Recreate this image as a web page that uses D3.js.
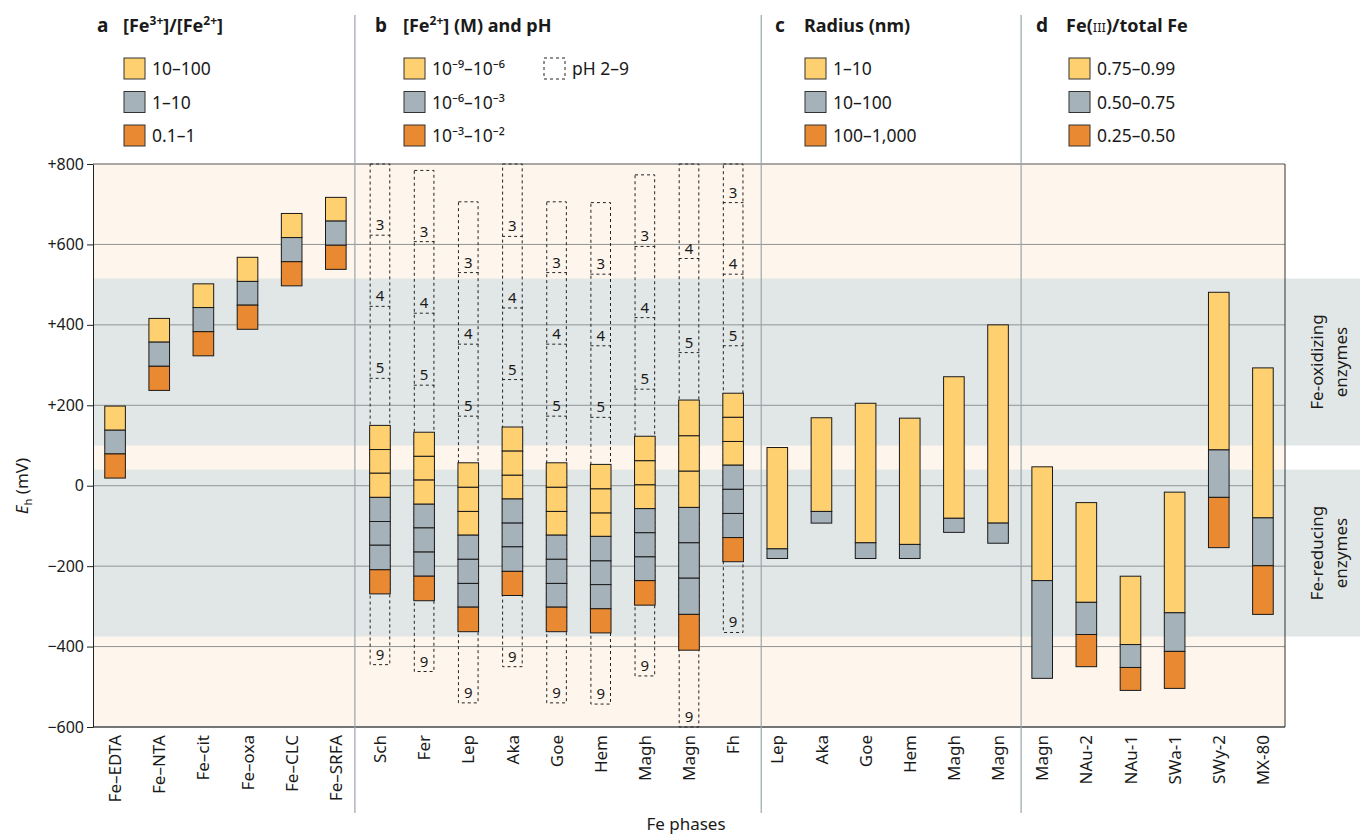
<!DOCTYPE html>
<html lang="en">
<head>
<meta charset="UTF-8">
<title>Fe phases Eh</title>
<script src="https://d3js.org/d3.v7.min.js"></script>
<style>
    body { margin: 0; background: #fff; font-family: "Noto Sans", "Open Sans", sans-serif; }
    svg { display: block; }
    text { fill: #1a1a1a; }
</style>
</head>
<body>
<div id="container"></div>
<script>
// ---- data (mV), segment edges listed from top to bottom ----
const aNames = ["Fe–EDTA", "Fe–NTA", "Fe–cit", "Fe–oxa", "Fe–CLC", "Fe–SRFA"];
const aEdges = [
    [198, 138, 79, 19],
    [416, 357, 297, 237],
    [502, 443, 383, 323],
    [568, 508, 449, 389],
    [677, 617, 557, 497],
    [717, 658, 598, 538]
];
const aClasses = [0, 1, 2];

const bNames = ["Sch", "Fer", "Lep", "Aka", "Goe", "Hem", "Magh", "Magn", "Fh"];
const bEdges = [
    [150, 90, 31, -29, -89, -148, -209, -269],
    [133, 73, 14, -46, -105, -165, -225, -286],
    [57, -4, -64, -123, -183, -243, -302, -363],
    [146, 86, 26, -33, -93, -152, -213, -273],
    [57, -4, -64, -123, -183, -243, -302, -363],
    [53, -8, -68, -126, -187, -246, -306, -366],
    [123, 62, 2, -57, -117, -177, -236, -297],
    [213, 124, 36, -54, -142, -230, -320, -409],
    [230, 170, 110, 51, -9, -69, -129, -189]
];
const bClasses = [0, 0, 0, 1, 1, 1, 2];
// pH 2 (top, cut at +800), pH 3, 4, 5 and pH 9 (bottom)
const phTop = [800, 784, 706, 800, 706, 704, 773, 800, 800];
const ph3 = [623, 607, 530, 620, 530, 526, 595, null, 704];
const ph4 = [446, 429, 352, 442, 352, 348, 418, 565, 526];
const ph5 = [267, 250, 173, 264, 173, 170, 240, 331, 348];
const ph9 = [-445, -462, -540, -450, -540, -543, -473, -600, -365];

const cNames = ["Lep", "Aka", "Goe", "Hem", "Magh", "Magn"];
const cEdges = [
    [95, -157, -181],
    [169, -64, -93],
    [205, -142, -181],
    [168, -146, -181],
    [271, -81, -116],
    [400, -93, -143]
];
const cClasses = [0, 1, 2];

const dNames = ["Magn", "NAu-2", "NAu-1", "SWa-1", "SWy-2", "MX-80"];
const dEdges = [
    [47, -236, -479],
    [-42, -290, -370, -450],
    [-225, -395, -452, -509],
    [-16, -316, -412, -504],
    [481, 89, -29, -154],
    [293, -80, -199, -320]
];
const dClasses = [0, 1, 2];

const yTicks = [800, 600, 400, 200, 0, -200, -400, -600];

// enzyme windows (mV)
const enzymeHi = [515, 40];
const enzymeLo = [100, -375];
const enzymeLabels = [["Fe-oxidizing", "enzymes"], ["Fe-reducing", "enzymes"]];

const legendA = ["10–100", "1–10", "0.1–1"];
const legendB = ["10⁻⁹–10⁻⁶", "10⁻⁶–10⁻³", "10⁻³–10⁻²"];
const legendC = ["1–10", "10–100", "100–1,000"];
const legendD = ["0.75–0.99", "0.50–0.75", "0.25–0.50"];

const fills = ["#ffd06f", "#a6b2b9", "#e98931"];

// ---- layout ----
const W = 1360, H = 836;
const plotL = 93, plotR = 1285, plotT = 164, plotB = 727;

const svg = d3.select('#container').append('svg')
    .attr('width', W).attr('height', H);

const panels = [
    {id: 'a', names: aNames, edges: aEdges, classes: aClasses},
    {id: 'b', names: bNames, edges: bEdges, classes: bClasses},
    {id: 'c', names: cNames, edges: cEdges, classes: cClasses},
    {id: 'd', names: dNames, edges: dEdges, classes: dClasses}
];

const rows = [];
panels.forEach(p => {
    p.names.forEach((n, i) => {
        rows.push({key: p.id + i, panel: p.id, idx: i, name: n, edges: p.edges[i], classes: p.classes});
    });
});

const x = d3.scaleBand()
    .domain(rows.map(d => d.key))
    .range([plotL, plotR])
    .paddingInner(0.533)
    .paddingOuter(0.2665);

const y = d3.scaleLinear().domain([-600, 800]).range([plotB, plotT]);

// backgrounds
svg.append('rect')
    .attr('x', plotL).attr('y', plotT)
    .attr('width', plotR - plotL).attr('height', plotB - plotT)
    .attr('fill', '#fef5ec');

svg.selectAll('.band')
    .data(enzymeHi)
    .enter()
    .append('rect')
    .attr('x', plotL)
    .attr('y', d => y(d))
    .attr('width', W - plotL)
    .attr('height', (d, i) => y(enzymeLo[i]) - y(d))
    .attr('fill', '#e1e6e6');

// grid
svg.selectAll('.grid')
    .data(yTicks)
    .enter()
    .append('line')
    .attr('x1', plotL).attr('x2', plotR)
    .attr('y1', d => y(d)).attr('y2', d => y(d))
    .attr('stroke', (d, i) => (i === 0 ? '#555' : '#8e9496'))
    .attr('stroke-width', 1);

// pH 2–9 dashed boxes (panel b)
const bRows = rows.filter(d => d.panel === 'b');
const ph = svg.append('g');
ph.selectAll('rect')
    .data(bRows)
    .enter()
    .append('rect')
    .attr('x', d => x(d.key) + 0.5)
    .attr('y', d => y(phTop[d.idx]))
    .attr('width', x.bandwidth() - 1)
    .attr('height', d => y(ph9[d.idx]) - y(phTop[d.idx]))
    .attr('fill', 'none')
    .attr('stroke', '#222')
    .attr('stroke-dasharray', '3,3');

const phLines = [];
bRows.forEach(d => {
    [[ph3, '3'], [ph4, '4'], [ph5, '5']].forEach(([arr, lab]) => {
        if (arr[d.idx] !== null) phLines.push({key: d.key, v: arr[d.idx], lab: lab, line: true});
    });
    phLines.push({key: d.key, v: ph9[d.idx], lab: '9', line: false});
});

ph.selectAll('line')
    .data(phLines.filter(d => d.line))
    .enter()
    .append('line')
    .attr('x1', d => x(d.key)).attr('x2', d => x(d.key) + x.bandwidth())
    .attr('y1', d => y(d.v)).attr('y2', d => y(d.v))
    .attr('stroke', '#222')
    .attr('stroke-dasharray', '3,3');

ph.selectAll('text')
    .data(phLines)
    .enter()
    .append('text')
    .attr('x', d => x(d.key) + x.bandwidth() / 2)
    .attr('y', d => y(d.v) - 5)
    .attr('text-anchor', 'middle')
    .attr('font-size', 15)
    .text(d => d.lab);

// stacked bars
const segs = [];
rows.forEach(d => {
    for (let k = 0; k < d.edges.length - 1; k++) {
        segs.push({key: d.key, hi: d.edges[k], lo: d.edges[k + 1], cls: d.classes[Math.min(k, d.classes.length - 1)]});
    }
});

svg.append('g').selectAll('rect')
    .data(segs)
    .enter()
    .append('rect')
    .attr('x', d => x(d.key))
    .attr('y', d => y(d.hi))
    .attr('width', x.bandwidth())
    .attr('height', d => y(d.lo) - y(d.hi))
    .attr('fill', d => fills[d.cls])
    .attr('stroke', '#1a1a1a')
    .attr('stroke-width', 1);

// frame
svg.append('line')
    .attr('x1', plotL).attr('x2', plotR).attr('y1', plotB).attr('y2', plotB)
    .attr('stroke', '#222');
svg.append('line')
    .attr('x1', plotR).attr('x2', plotR).attr('y1', plotT).attr('y2', plotB)
    .attr('stroke', '#333');

// panel separators (gap between panels, nudged to the printed rules)
const sepKeys = ['b0', 'c0', 'd0'];
const sepNudge = [-3, 6, 1];
svg.selectAll('.sep')
    .data(sepKeys)
    .enter()
    .append('line')
    .attr('x1', (d, i) => x(d) - (x.step() - x.bandwidth()) / 2 + sepNudge[i])
    .attr('x2', (d, i) => x(d) - (x.step() - x.bandwidth()) / 2 + sepNudge[i])
    .attr('y1', 15).attr('y2', 813)
    .attr('stroke', '#9aa6ad')
    .attr('stroke-width', 1.2);

// y axis
const yAxis = svg.append('g')
    .attr('transform', `translate(${plotL},0)`)
    .call(d3.axisLeft(y)
        .tickValues(yTicks)
        .tickSize(6)
        .tickSizeOuter(0)
        .tickFormat(d => (d > 0 ? '+' + d : d < 0 ? '−' + Math.abs(d) : '0')));
yAxis.select('.domain').attr('stroke', '#222');
yAxis.selectAll('.tick line').attr('stroke', '#222');
yAxis.selectAll('.tick text')
    .attr('font-family', '"Noto Sans", sans-serif')
    .attr('font-size', 16)
    .attr('fill', '#1a1a1a')
    .attr('x', -9);

const yTitle = svg.append('text')
    .attr('transform', 'translate(28,486) rotate(-90)')
    .attr('text-anchor', 'middle')
    .attr('font-size', 17);
yTitle.append('tspan').attr('font-style', 'italic').text('E');
yTitle.append('tspan').attr('font-size', 11).attr('dy', 4).text('h');
yTitle.append('tspan').attr('dy', -4).text(' (mV)');

// x labels
svg.selectAll('.xlab')
    .data(rows)
    .enter()
    .append('text')
    .attr('transform', d => `translate(${x(d.key) + x.bandwidth() / 2},735) rotate(-90)`)
    .attr('text-anchor', 'end')
    .attr('dy', '0.36em')
    .attr('font-size', 17)
    .text(d => d.name);

svg.append('text')
    .attr('x', (plotL + plotR) / 2 - 3)
    .attr('y', 830)
    .attr('text-anchor', 'middle')
    .attr('font-size', 17)
    .text('Fe phases');

// enzyme labels
enzymeHi.forEach((hi, i) => {
    const yc = (y(hi) + y(enzymeLo[i])) / 2;
    const t = svg.append('text')
        .attr('transform', `translate(1323,${yc}) rotate(-90)`)
        .attr('text-anchor', 'middle')
        .attr('font-size', 17);
    enzymeLabels[i].forEach((s, k) => {
        t.append('tspan').attr('x', 0).attr('y', k * 24).text(s);
    });
});

// panel titles
const titles = [
    {letter: 'a', lx: 97, tx: 123, parts: [['[Fe', 0], ['3+', 1], [']/[Fe', 0], ['2+', 1], [']', 0]]},
    {letter: 'b', lx: 375, tx: 403, parts: [['[Fe', 0], ['2+', 1], ['] (M) and pH', 0]]},
    {letter: 'c', lx: 775, tx: 804, parts: [['Radius (nm)', 0]]},
    {letter: 'd', lx: 1036, tx: 1066, parts: [['Fe(', 0], ['III', 2], [')/total Fe', 0]]}
];
titles.forEach(t => {
    svg.append('text')
        .attr('x', t.lx).attr('y', 32)
        .attr('font-size', 19).attr('font-weight', 'bold')
        .text(t.letter);
    const tt = svg.append('text')
        .attr('x', t.tx).attr('y', 32)
        .attr('font-size', 18).attr('font-weight', 'bold');
    let shift = 0;
    t.parts.forEach(([s, kind]) => {
        const sp = tt.append('tspan').text(s);
        if (kind === 1) {
            sp.attr('font-size', 12).attr('dy', -7 - shift);
            shift = -7;
        } else if (kind === 2) {
            sp.attr('font-size', 13).attr('font-weight', 'normal').attr('dy', -shift);
            shift = 0;
        } else {
            sp.attr('dy', -shift);
            shift = 0;
        }
    });
});

// legends
const legends = [
    {sx: 124, labels: legendA},
    {sx: 404, labels: legendB},
    {sx: 805, labels: legendC},
    {sx: 1069, labels: legendD}
];
const rowY = [58, 91.5, 125];
legends.forEach(lg => {
    const g = svg.append('g');
    g.selectAll('rect')
        .data(lg.labels)
        .enter()
        .append('rect')
        .attr('x', lg.sx).attr('y', (d, i) => rowY[i])
        .attr('width', 21).attr('height', 21)
        .attr('fill', (d, i) => fills[i])
        .attr('stroke', '#333');
    g.selectAll('text')
        .data(lg.labels)
        .enter()
        .append('text')
        .attr('x', lg.sx + 28).attr('y', (d, i) => rowY[i] + 17)
        .attr('font-size', 17.5)
        .text(d => d);
});
// pH legend
svg.append('rect')
    .attr('x', 544).attr('y', rowY[0])
    .attr('width', 21).attr('height', 21)
    .attr('fill', 'none').attr('stroke', '#222')
    .attr('stroke-dasharray', '3,3');
svg.append('text')
    .attr('x', 572).attr('y', rowY[0] + 17)
    .attr('font-size', 17.5)
    .text('pH 2–9');
</script>
</body>
</html>
